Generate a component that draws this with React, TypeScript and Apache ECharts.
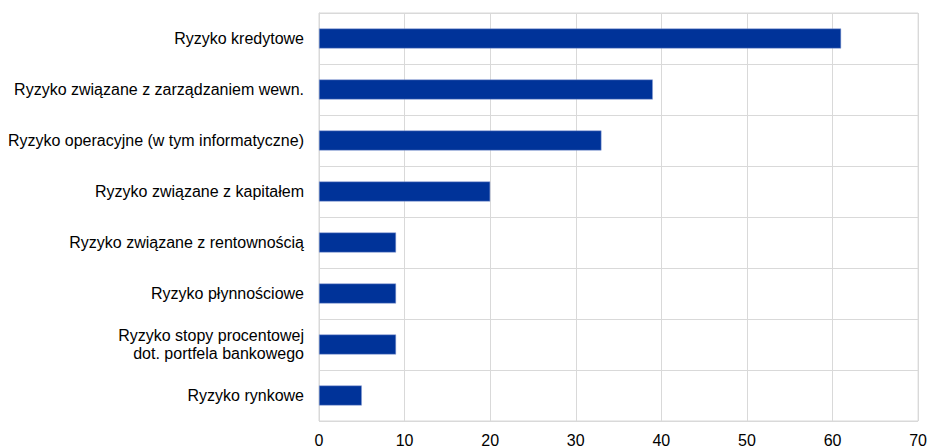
import React, { useEffect, useRef } from "react";
import * as echarts from "echarts";

const categories = [
  "Ryzyko kredytowe",
  "Ryzyko związane z zarządzaniem wewn.",
  "Ryzyko operacyjne (w tym informatyczne)",
  "Ryzyko związane z kapitałem",
  "Ryzyko związane z rentownością",
  "Ryzyko płynnościowe",
  "Ryzyko stopy procentowej\ndot. portfela bankowego",
  "Ryzyko rynkowe",
];
const values = [61, 39, 33, 20, 9, 9, 9, 5];
const xTicks = { min: 0, max: 70, interval: 10 };

export default function App() {
  const ref = useRef<HTMLDivElement>(null);
  useEffect(() => {
    if (!ref.current) return;
    const chart = echarts.init(ref.current, undefined, { renderer: "svg" });
    chart.setOption({
      animation: false,
      grid: {
        left: 319,
        right: 10,
        top: 13,
        bottom: 27,
        show: true,
        borderColor: "#d9d9d9",
        borderWidth: 1,
      },
      xAxis: {
        type: "value",
        min: xTicks.min,
        max: xTicks.max,
        interval: xTicks.interval,
        axisLine: { show: false },
        axisTick: { show: false },
        splitLine: { show: true, lineStyle: { color: "#d9d9d9", width: 1 } },
        axisLabel: {
          color: "#000",
          fontFamily: "Liberation Sans",
          fontSize: 16,
          margin: 11,
        },
      },
      yAxis: {
        type: "category",
        data: categories,
        inverse: true,
        axisLine: { show: true, lineStyle: { color: "#d9d9d9" } },
        axisTick: { show: false },
        splitLine: { show: true, lineStyle: { color: "#d9d9d9", width: 1 } },
        axisLabel: {
          color: "#000",
          fontFamily: "Liberation Sans",
          fontSize: 16,
          margin: 15,
          lineHeight: 18,
          align: "right",
        },
      },
      series: [
        {
          type: "bar",
          data: values,
          barWidth: 20,
          itemStyle: { color: "#003399", borderColor: "#8fa3d6", borderWidth: 0.5 },
        },
      ],
    });
    return () => chart.dispose();
  }, []);
  return (
    <div
      ref={ref}
      style={{ position: "fixed", left: 0, top: 0, width: 930, height: 448, background: "#fff" }}
    />
  );
}
